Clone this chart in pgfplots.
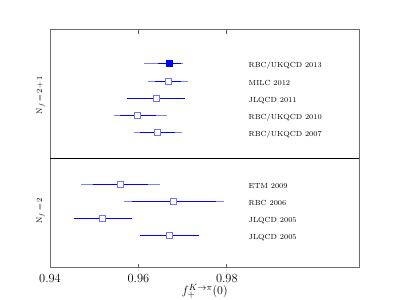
\documentclass[border=0pt]{standalone}
\usepackage{pgfplots}
\pgfplotsset{compat=1.18}
\begin{document}
\begin{tikzpicture}[x=1bp,y=1bp]
\path[use as bounding box] (0,0) rectangle (400,300);
\begin{axis}[
  at={(50bp,32bp)}, anchor=south west,
  width=309.5bp, height=238bp, scale only axis,
  xmin=0.94, xmax=1.01, ymin=-0.881, ymax=12.98,
  xtick={0.94,0.96,0.98},
  xticklabels={0.94,0.96,0.98},
  ytick=\empty,
  tick align=inside,
  xtick pos=both,
  major tick length=4bp,
  axis line style={gray!85!black, line width=1bp},
  every tick/.style={gray!70!black, line width=0.8bp},
  ticklabel style={font=\fontsize{12.5}{14}\selectfont},
  xticklabel style={yshift=-3bp},
  xlabel={$f_+^{K\to\pi}(0)$},
  xlabel style={font=\fontsize{12.5}{14}\selectfont, yshift=6bp},
  clip=false,
]
% total errors (light)
\addplot[blue!50, line width=1bp, only marks, mark=none, error bars/.cd, x dir=both, x explicit,
  error bar style={blue!50, line width=1bp},
  error mark options={blue!50, mark size=2.5bp, line width=1bp}]
coordinates {
 (0.9670,11) += (0.0026,0) -= (0.0051,0)
 (0.9667,10) += (0.0040,0) -= (0.0040,0)
 (0.9599,8) += (0.0059,0) -= (0.0049,0)
 (0.9644,7) += (0.0048,0) -= (0.0049,0)
 (0.9560,4) += (0.0084,0) -= (0.0084,0)
 (0.9680,3) += (0.0107,0) -= (0.0108,0)
};
% stat errors (solid)
\addplot[blue, line width=1bp, only marks, mark=none, error bars/.cd, x dir=both, x explicit,
  error bar style={blue, line width=1bp},
  error mark options={blue, mark size=2.5bp, line width=1bp}]
coordinates {
 (0.9670,11) += (0.0020,0) -= (0.0020,0)
 (0.9667,10) += (0.0023,0) -= (0.0023,0)
 (0.9640,9) += (0.0060,0) -= (0.0061,0)
 (0.9599,8) += (0.0034,0) -= (0.0034,0)
 (0.9644,7) += (0.0033,0) -= (0.0034,0)
 (0.9560,4) += (0.0057,0) -= (0.0058,0)
 (0.9680,3) += (0.0089,0) -= (0.0090,0)
 (0.9519,2) += (0.0060,0) -= (0.0060,0)
 (0.9670,1) += (0.0061,0) -= (0.0061,0)
};
% open markers
\addplot[only marks, mark=square*, mark size=3bp,
  mark options={draw=blue!55, fill=white, line width=1bp}]
coordinates {
 (0.9667,10) (0.9640,9) (0.9599,8) (0.9644,7)
 (0.9560,4) (0.9680,3) (0.9519,2) (0.9670,1)
};
% filled marker
\addplot[only marks, mark=square*, mark size=3bp,
  mark options={draw=blue, fill=blue, line width=1bp}]
coordinates { (0.9670,11) };
% separator
\draw[black, line width=1bp] (axis cs:0.94,5.5) -- (axis cs:1.01,5.5);
% labels
\begin{scope}[every node/.style={anchor=west, font=\fontsize{7.4}{9}\selectfont, inner sep=0pt}]
\node at (axis cs:0.9849,10.88) {RBC/UKQCD 2013};
\node at (axis cs:0.9849,9.88) {MILC 2012};
\node at (axis cs:0.9849,8.88) {JLQCD 2011};
\node at (axis cs:0.9849,7.88) {RBC/UKQCD 2010};
\node at (axis cs:0.9849,6.88) {RBC/UKQCD 2007};
\node at (axis cs:0.9849,3.88) {ETM 2009};
\node at (axis cs:0.9849,2.88) {RBC 2006};
\node at (axis cs:0.9849,1.88) {JLQCD 2005};
\node at (axis cs:0.9849,0.88) {JLQCD 2005};
\end{scope}
\node[rotate=90, font=\fontsize{8.5}{10}\selectfont] at (axis description cs:-0.030,0.727) {$\mathrm{N}_f\,{=}\,2\,{+}\,1$};
\node[rotate=90, font=\fontsize{8.5}{10}\selectfont] at (axis description cs:-0.030,0.239) {$\mathrm{N}_f\,{=}\,2$};
\end{axis}
\end{tikzpicture}
\end{document}
